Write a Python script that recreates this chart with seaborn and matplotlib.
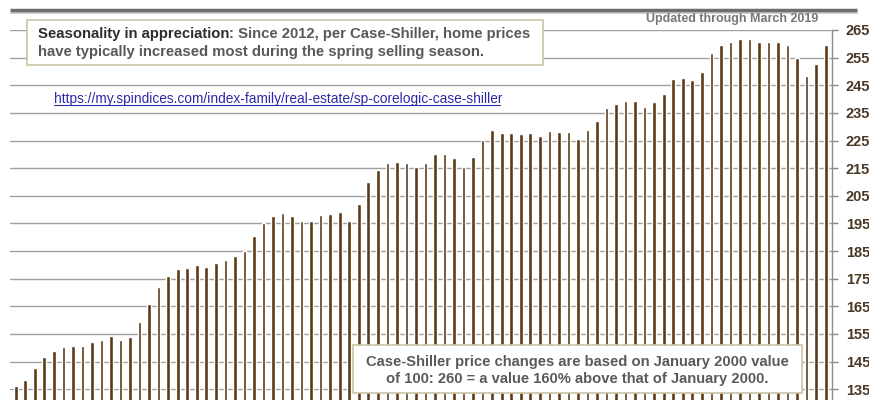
import matplotlib
matplotlib.use('Agg')
import matplotlib.pyplot as plt
import matplotlib.patches as mpatches
import numpy as np
import pandas as pd
import seaborn as sns

# monthly Case-Shiller index, Feb 2012 .. Mar 2019
months = pd.date_range('2012-02-01', periods=86, freq='MS').strftime('%b %Y').tolist()
index_values = [
    136.3, 138.4, 142.5, 146.8, 148.8, 150.4, 150.8, 150.8, 152.1, 152.8,
    154.2, 152.8, 153.8, 159.3, 166.0, 172.1, 175.8, 178.5, 178.9, 179.9,
    179.2, 180.8, 181.7, 183.3, 185.0, 190.4, 195.2, 197.7, 198.6, 197.8,
    196.0, 196.0, 198.1, 198.5, 199.1, 195.7, 202.2, 210.0, 214.4, 217.0,
    217.4, 217.0, 215.6, 216.7, 220.1, 220.1, 218.6, 215.6, 219.2, 225.1,
    228.8, 227.8, 227.8, 227.2, 227.8, 226.8, 228.4, 228.1, 228.2, 225.5,
    228.9, 231.9, 236.7, 238.3, 239.4, 239.4, 237.3, 239.0, 242.0, 247.4,
    247.8, 246.9, 249.9, 256.6, 259.6, 260.6, 261.6, 261.6, 260.6, 260.6,
    260.6, 259.6, 254.7, 248.4, 252.6, 259.6,
]
y_ticks = list(range(135, 266, 10))

BAR = '#5c3a17'
GRID = '#a0a0a0'
SANS = ['Liberation Sans', 'DejaVu Sans']

sns.set_style('white')
plt.rcParams['font.family'] = SANS

df = pd.DataFrame({'month': months, 'index': index_values})

fig = plt.figure(figsize=(8.7, 4.0), dpi=100)
W, H = 870, 400
# plot area in pixels: x 10..832, y 30..400
ax = fig.add_axes([10 / W, 0, 822 / W, 370 / H])

sns.barplot(data=df, x='month', y='index', color=BAR, saturation=1,
            width=0.38, ax=ax)

ax.set_xlim(-0.6, 85.66)
ax.set_ylim(131.1, 265)
ax.set_axisbelow(True)
ax.yaxis.grid(True, color=GRID, lw=1)
ax.set_yticks(y_ticks)
ax.yaxis.tick_right()
ax.tick_params(axis='y', direction='out', length=4, width=1, color='#888888',
               pad=6, labelsize=10.5, labelcolor='#4a3826')
for lab in ax.get_yticklabels():
    lab.set_fontweight('bold')
ax.set_xticks([])
ax.set_xlabel('')
ax.set_ylabel('')
for side in ['top', 'left', 'bottom']:
    ax.spines[side].set_visible(False)
ax.spines['right'].set_color('#8a8a8a')
ax.spines['right'].set_linewidth(1)

# overlay in pixel coordinates for the annotation boxes
ov = fig.add_axes([0, 0, 1, 1], zorder=5)
ov.set_xlim(0, W)
ov.set_ylim(H, 0)
ov.axis('off')
ov.patch.set_alpha(0)

# header rule
ov.plot([10, 857], [12, 12], color='#c8c8c8', lw=2, solid_capstyle='butt')
ov.plot([10, 857], [10, 10], color='#6e6e6e', lw=2.5, solid_capstyle='butt')

ov.text(818, 19, 'Updated through March 2019', ha='right', va='center',
        fontsize=9, color='#777777', fontweight='bold')

# seasonality box
ov.add_patch(mpatches.Rectangle((27, 20), 516, 45, facecolor='white',
                                edgecolor='#c9c5a8', lw=1.2))
t1 = ov.text(38, 34, 'Seasonality in appreciation', ha='left', va='center',
             fontsize=10.7, color='#2e2e2e', fontweight='bold')
ov.annotate(': Since 2012, per Case-Shiller, home prices', xy=(1, 0.5),
            xycoords=t1, ha='left', va='center', fontsize=10.7,
            color='#595959', fontweight='bold')
ov.text(38, 52, 'have typically increased most during the spring selling season.',
        ha='left', va='center', fontsize=10.7, color='#595959',
        fontweight='bold')

# link
link = 'https://my.spindices.com/index-family/real-estate/sp-corelogic-case-shiller'
ov.text(54, 99, link, ha='left', va='center', fontsize=9.9, color='#2a2aa8')
ov.plot([54, 500], [105, 105], color='#2a2aa8', lw=0.8)

# base-value box
ov.add_patch(mpatches.Rectangle((353, 345), 449, 48, facecolor='white',
                                edgecolor='#c9c5a8', lw=1.2))
ov.text(577, 362, 'Case-Shiller price changes are based on January 2000 value',
        ha='center', va='center', fontsize=10.6, color='#5a5a5a', fontweight='bold')
ov.text(577, 379, 'of 100: 260 = a value 160% above that of January 2000.',
        ha='center', va='center', fontsize=10.6, color='#5a5a5a', fontweight='bold')

fig.savefig('out.png', dpi=100)
